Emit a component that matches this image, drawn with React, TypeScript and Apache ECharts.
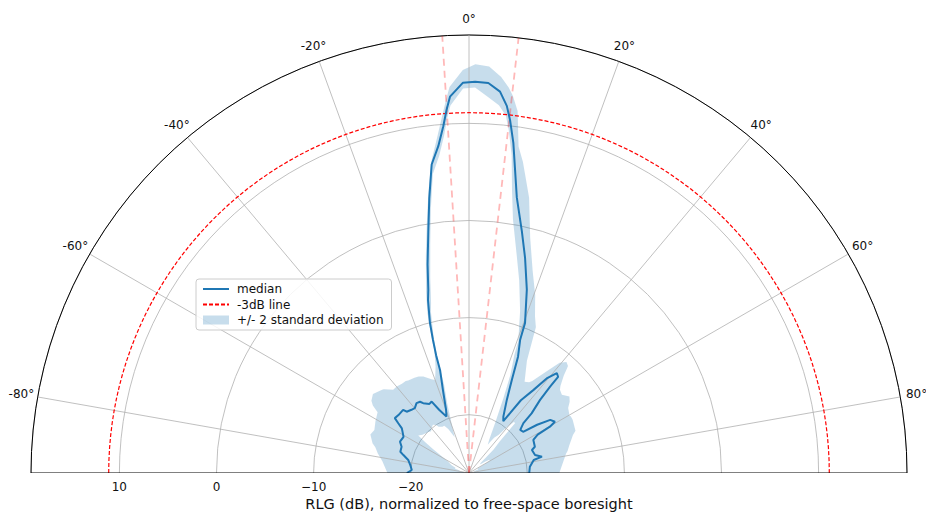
import React, { useEffect, useRef } from "react";
import * as echarts from "echarts";

const R_MIN = -26;
const R_MAX = 19.1;
const THREE_DB = 11.1;
const BEAM_EDGES_DEG = [-3.5, 6.5];
const ANGLE_TICKS = [-80, -60, -40, -20, 0, 20, 40, 60, 80];
const RADIAL_TICKS = [-20, -10, 0, 10];
const X_TITLE = "RLG (dB), normalized to free-space boresight";

const ANGLES_DEG = [
  -90, -87, -82.3, -77.9, -74.7, -72.8, -68.7, -65.6, -61.1, -56.4, -54.9, -53.5, -50.6, -46.2,
  -45.5, -42.3, -39.9, -36.9, -34.5, -33.3, -29.8, -27.6, -25.3, -21.8, -20, -17.4, -15.7, -15.6,
  -15.15, -14.57, -13.33, -12.54, -11.23, -9.57, -8.22, -6.9, -5.37, -4.24, -3.52, -2.89, -0.88,
  0.9, 2.84, 4.65, 5.88, 6.63, 7.65, 8.63, 9.84, 12.32, 14.6, 17.5, 20.47, 21.0, 22.85, 24.66,
  27.3, 31.35, 33.5, 34.5, 35.5, 37.8, 39.4, 41.3, 42.8, 43.2, 44.2, 46.4, 47.5, 49.9, 52.7, 54.7,
  56.8, 59.2, 60.2, 60.8, 62.8, 68.3, 69.9, 74.7, 77.4, 78.6, 84.1, 90,
];

const MEDIAN_DB = [
  -19.6, -20.1, -19.9, -19.6, -19.0, -18.6, -18.55, -18.2, -18.3, -17.7, -17.1, -16.5, -16.6, -16.6,
  -17.0, -17.2, -17.3, -17.0, -17.1, -17.4, -17.8, -17.7, -18.8, -19.75, -19.1, -17.0, -15.0, -13.4,
  -11.8, -10.0, -7.7, -6.7, -4.1, -0.8, 2.6, 6.0, 7.8, 9.8, 11.5, 12.8, 14.2,
  14.3, 14.2, 13.4, 12.0, 10.6, 8.3, 5.6, 2.8, -0.5, -3.1, -6.2, -9.5, -11.3, -13.0, -15.4,
  -17.5, -19.2, -19.6, -18.5, -16.8, -15.2, -13.4, -12.3, -12.5, -13.8, -15.5, -17.1, -18.4, -19.1, -19.0, -17.4,
  -16.0, -15.7, -16.4, -17.9, -18.55, -18.7, -19.1, -18.95, -18.3, -19.2, -19.7, -19.8,
];

const UPPER_DB = [
  -17.6, -17.4, -17.0, -16.4, -16.0, -15.6, -15.1, -15.3, -15.0, -14.7, -13.9, -13.5, -13.2, -13.6,
  -13.7, -14.4, -14.4, -14.5, -14.5, -14.6, -14.7, -14.8, -15.0, -15.6, -15.8, -14.5, -12.8, -12.2,
  -10.8, -9.0, -6.8, -5.6, -3.2, 0.1, 3.2, 6.3, 8.8, 11.0, 12.5, 13.8, 15.5,
  16.1, 15.9, 14.9, 13.9, 13.1, 11.6, 8.0, 6.5, 3.0, -1.0, -4.2, -6.5, -7.0, -8.5, -9.5,
  -13.0, -15.0, -14.8, -14.5, -14.0, -12.5, -11.3, -10.8, -11.0, -11.3, -12.0, -13.0, -13.3, -13.5, -13.0, -13.3,
  -13.8, -14.0, -14.1, -14.0, -14.0, -14.2, -14.6, -15.3, -15.6, -15.8, -16.3, -16.7,
];

const LOWER_DB = [
  -25.5, -25.5, -25.5, -25.0, -25.0, -24.5, -24.5, -24.0, -23.5, -21.5, -20.5, -19.5, -19.8, -20.0,
  -20.0, -20.2, -20.0, -19.8, -20.0, -20.3, -20.5, -20.5, -21.0, -22.0, -21.0, -18.5, -16.5, -14.8,
  -13.2, -11.5, -9.0, -8.0, -5.5, -2.0, 1.5, 5.0, 6.8, 8.8, 10.6, 11.9, 13.6,
  13.7, 12.8, 12.0, 11.0, 9.5, 7.0, 3.5, 0.5, -3.0, -5.5, -8.5, -11.5, -13.0, -15.0, -17.5,
  -20.0, -22.0, -22.5, -22.0, -21.5, -21.0, -20.0, -19.0, -19.0, -20.0, -21.5, -22.5, -23.5, -24.5, -24.5, -24.0,
  -23.5, -23.5, -24.0, -24.5, -25.0, -25.0, -25.5, -25.5, -25.0, -25.5, -25.5, -25.5,
];

// angular sampling for the constant -3 dB level
const LEVEL_SAMPLE_DEG = Array.from({ length: 91 }, (_, i) => -90 + i * 2);

const FONT = "DejaVu Sans";
const BAND_COLOR = "rgba(31,119,180,0.25)";
const TEXT_COLOR = "#111";

function fmtRadius(v: number): string {
  return v < 0 ? "\u2212" + String(-v) : String(v);
}

export default function App() {
  const ref = useRef<HTMLDivElement>(null);
  useEffect(() => {
    if (!ref.current) return;
    const chart = echarts.init(ref.current, undefined, { renderer: "svg" });

    const lineSeries = (data: any[], color: string, width: number, type: any, z: number, name?: string) => ({
      type: "line",
      name,
      coordinateSystem: "polar",
      data,
      symbol: "none",
      silent: true,
      z,
      color,
      lineStyle: { color, width, type },
      emphasis: { disabled: true },
    });

    const spokes = ANGLE_TICKS.map((a) =>
      lineSeries([[R_MIN, a], [R_MAX, a]], "#b0b0b0", 0.8, "solid", 2)
    );
    const beams = BEAM_EDGES_DEG.map((a) =>
      lineSeries([[R_MIN, a], [R_MAX, a]], "rgba(255,0,0,0.28)", 1.8, [7, 5], 3)
    );

    const option: any = {
      animation: false,
      textStyle: { fontFamily: FONT },
      polar: { center: [469, 473], radius: 438 },
      angleAxis: {
        type: "value",
        min: -90,
        max: 90,
        interval: 10,
        startAngle: 180,
        endAngle: 0,
        clockwise: true,
        axisLine: { show: true, lineStyle: { color: "#000", width: 1 } },
        axisTick: { show: false },
        splitLine: { show: false },
        axisLabel: { show: false },
      },
      radiusAxis: {
        type: "value",
        min: R_MIN,
        max: R_MAX,
        axisLine: { show: false },
        axisTick: { show: false },
        splitLine: { show: true, lineStyle: { color: "#b0b0b0", width: 0.8 } },
        axisLabel: { show: false },
      },
      legend: {
        orient: "vertical",
        left: 196,
        top: 279,
        padding: [4, 8, 4, 6],
        itemGap: 3.5,
        itemWidth: 26,
        itemHeight: 9,
        backgroundColor: "rgba(255,255,255,0.85)",
        borderColor: "#cccccc",
        borderWidth: 1,
        borderRadius: 3,
        textStyle: { fontFamily: FONT, fontSize: 12, color: TEXT_COLOR, padding: [0, 0, 0, 3] },
        data: [
          { name: "median", itemStyle: { opacity: 0 } },
          { name: "-3dB line", itemStyle: { opacity: 0 } },
          { name: "+/- 2 standard deviation", icon: "rect" },
        ],
      },
      graphic: [
        {
          type: "text",
          x: 469,
          y: 504,
          style: {
            text: X_TITLE,
            fontFamily: FONT,
            fontSize: 14.5,
            fill: TEXT_COLOR,
            textAlign: "center",
            textVerticalAlign: "middle",
          },
        },
      ],
      series: [
        {
          type: "custom",
          name: "+/- 2 standard deviation",
          coordinateSystem: "polar",
          data: [[R_MIN, 0]],
          z: 1,
          silent: true,
          itemStyle: { color: BAND_COLOR },
          renderItem: (params: any, api: any) => {
            const pts: number[][] = [];
            for (let i = 0; i < ANGLES_DEG.length; i++) {
              pts.push(api.coord([Math.max(R_MIN, UPPER_DB[i]), ANGLES_DEG[i]]));
            }
            for (let i = ANGLES_DEG.length - 1; i >= 0; i--) {
              pts.push(api.coord([Math.max(R_MIN, LOWER_DB[i]), ANGLES_DEG[i]]));
            }
            return { type: "polygon", shape: { points: pts }, style: { fill: BAND_COLOR } };
          },
        },
        ...spokes,
        lineSeries([[R_MAX, -90], [R_MIN, 0], [R_MAX, 90]], "#000", 1, "solid", 6),
        ...beams,
        lineSeries(
          LEVEL_SAMPLE_DEG.map((a) => [THREE_DB, a]),
          "#ff0000",
          1.2,
          [4, 2],
          4,
          "-3dB line"
        ),
        lineSeries(
          ANGLES_DEG.map((a, i) => [MEDIAN_DB[i], a]),
          "#1f77b4",
          2,
          "solid",
          5,
          "median"
        ),
        {
          // angle tick labels, centred just outside the outer arc
          type: "custom",
          coordinateSystem: "polar",
          silent: true,
          z: 10,
          data: ANGLE_TICKS.map((a) => [R_MAX, a]),
          renderItem: (params: any, api: any) => {
            const a = api.value(1);
            const p = api.coord([R_MAX, a]);
            const c = api.coord([R_MIN, a]);
            const dx = p[0] - c[0];
            const dy = p[1] - c[1];
            const len = Math.hypot(dx, dy) || 1;
            const off = 16.5;
            return {
              type: "text",
              x: p[0] + (dx / len) * off,
              y: p[1] + (dy / len) * off,
              style: {
                text: `${a}°`,
                align: "center",
                verticalAlign: "middle",
                fontSize: 12,
                fontFamily: FONT,
                fill: TEXT_COLOR,
              },
            };
          },
        },
        {
          // radial tick labels below the baseline
          type: "custom",
          coordinateSystem: "polar",
          silent: true,
          z: 10,
          data: RADIAL_TICKS.map((v) => [v, -90]),
          renderItem: (params: any, api: any) => {
            const v = api.value(0);
            const p = api.coord([v, -90]);
            return {
              type: "text",
              x: p[0],
              y: p[1] + 14,
              style: {
                text: fmtRadius(v),
                align: "center",
                verticalAlign: "middle",
                fontSize: 12,
                fontFamily: FONT,
                fill: TEXT_COLOR,
              },
            };
          },
        },
      ],
    };
    chart.setOption(option);
    return () => chart.dispose();
  }, []);

  return (
    <div
      ref={ref}
      style={{ position: "absolute", left: 0, top: 0, width: 926, height: 519, background: "#fff" }}
    />
  );
}
